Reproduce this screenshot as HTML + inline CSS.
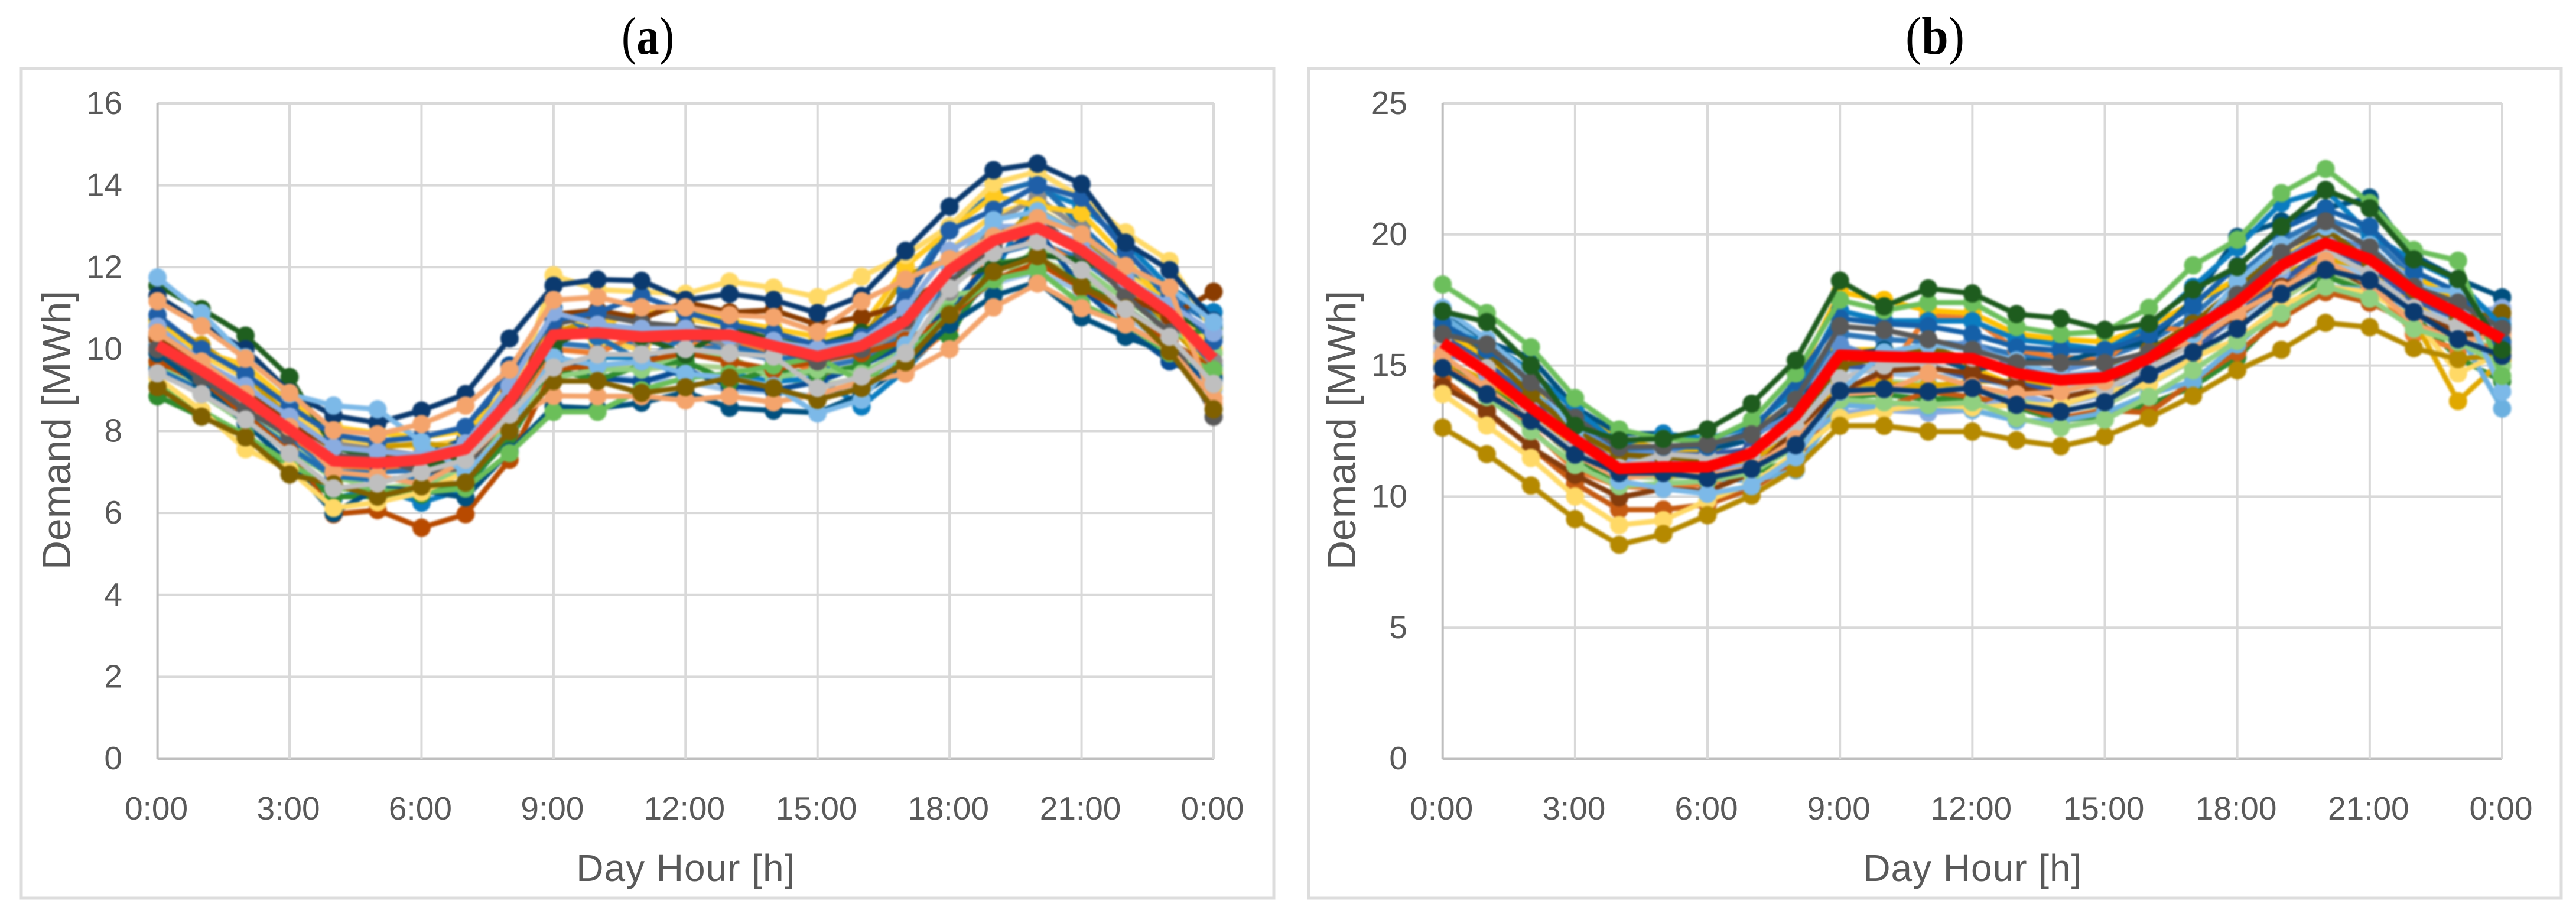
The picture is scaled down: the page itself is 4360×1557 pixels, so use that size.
<!DOCTYPE html>
<html lang="en">
<head>
<meta charset="utf-8">
<title>Daily demand profiles</title>
<style>
html,body{margin:0;padding:0;background:#fff;width:4360px;height:1557px;overflow:hidden}
svg{display:block}
text{font-family:"Liberation Sans",sans-serif;fill:#595959}
.tick{font-size:55px}
.title{font-family:"Liberation Serif",serif;fill:#000;font-size:90px}
.axt{font-size:64px}
.aty{font-size:68px}
.soft{filter:blur(1.5px)}
</style>
</head>
<body>
<svg id="root" xmlns="http://www.w3.org/2000/svg" width="4360" height="1557" viewBox="0 0 4360 1557">
  <rect width="4360" height="1557" fill="#fff"/>
  <text class="title" x="1052" y="91" textLength="89" lengthAdjust="spacingAndGlyphs">(<tspan font-weight="bold">a</tspan>)</text>
  <text class="title" x="3225" y="91" textLength="100" lengthAdjust="spacingAndGlyphs">(<tspan font-weight="bold">b</tspan>)</text>
  <rect x="36" y="116" width="2120" height="1404" fill="#fff" stroke="#DDDDDD" stroke-width="5"/>
  <rect x="2215" y="116" width="2120" height="1404" fill="#fff" stroke="#DDDDDD" stroke-width="5"/>
  <g id="panelA"></g>
  <g id="panelB"></g>
</svg>
<script>
// ---- shared axis data ----
const hours=[0,1,2,3,4,5,6,7,8,9,10,11,12,13,14,15,16,17,18,19,20,21,22,23,24];
const xTickHours=[0,3,6,9,12,15,18,21,24];
const xTickLabels=["0:00","3:00","6:00","9:00","12:00","15:00","18:00","21:00","0:00"];
const yTicksA=[0,2,4,6,8,10,12,14,16];
const yTicksB=[0,5,10,15,20,25];

// ---- panel (a) series, MWh per hour ----
const aExtra1=[9.9,9.3,8.6,7.8,7.0,7.0,7.05,7.3,8.2,10.15,10.05,10.15,10.2,9.95,9.75,9.55,9.75,10.4,11.6,12.3,12.6,12.2,11.4,10.6,9.6];
const aExtra2=[9.7,9.1,8.4,7.7,6.8,6.85,6.8,7.05,8.0,9.75,9.65,9.5,9.6,9.55,9.35,9.1,9.3,9.95,11.1,11.95,12.2,11.8,11.0,10.2,9.3];
const aExtra3=[10.25,9.65,9.15,8.3,7.4,7.3,7.2,7.45,8.6,9.45,9.35,9.25,9.2,9.0,8.95,8.85,9.2,9.9,10.9,11.6,11.9,11.4,10.8,10.1,9.0];
const aExtra4=[10.35,9.85,9.3,8.45,7.75,7.7,7.6,7.8,9.2,10.6,10.2,10.0,10.75,10.55,10.3,10.15,10.4,11.0,12.4,13.3,13.6,13.0,11.9,11.2,10.0];
const aSky=[10.1,9.5,8.4,7.6,6.35,6.6,6.25,6.6,7.9,9.6,9.8,9.8,9.3,9.4,9.2,9.3,8.6,9.5,10.6,11.8,13.9,13.5,12.6,11.5,10.9];
const aOrange=[10.0,9.4,8.7,7.9,7.15,7.1,7.2,7.4,8.4,10.0,9.9,10.4,10.1,10.2,9.9,9.4,9.5,9.6,10.5,12.7,12.7,12.0,11.2,10.5,9.9];
const aDeepBlue=[10.4,9.6,8.9,8.0,7.35,7.2,7.4,7.8,9.6,9.9,9.3,9.2,9.5,9.1,9.0,9.2,9.6,10.1,11.0,12.2,12.9,11.5,10.5,9.7,9.2];
const aAmber=[10.7,10.1,9.4,8.3,7.55,7.6,7.7,7.6,8.6,10.4,10.75,10.3,10.6,10.2,10.2,9.6,10.2,11.8,12.2,12.6,13.4,12.8,11.6,10.6,9.4];
const aForest=[8.85,8.35,7.9,7.1,6.4,6.4,6.45,6.7,7.8,9.5,9.25,9.6,9.7,9.2,9.5,9.4,9.6,10.3,10.3,12.1,12.2,11.6,11.0,10.3,10.5];
const aLtGreen=[9.6,8.9,8.2,7.5,6.9,6.6,6.7,7.0,8.2,9.3,9.5,9.5,9.9,9.8,9.3,9.5,9.4,10.0,11.3,11.5,12.5,12.0,11.2,10.5,9.9];
const aTeal=[9.5,9.0,8.3,7.6,6.9,6.8,6.9,7.2,8.6,11.0,10.3,9.7,10.3,10.1,9.8,9.7,9.9,11.4,13.0,13.8,14.1,13.0,12.0,11.3,10.6];
const aMidGray=[10.2,9.6,8.8,8.1,7.7,7.55,7.4,7.5,8.8,10.3,10.5,10.2,10.4,10.1,10.4,10.0,9.9,10.5,11.4,13.1,13.7,12.9,11.8,10.7,9.7];
const aGold=[10.6,9.95,9.6,8.7,8.1,7.95,7.85,8.0,9.0,10.8,10.6,10.9,11.0,10.7,10.5,10.3,10.5,12.03,12.9,13.74,13.5,13.33,12.2,11.0,9.1];
const aBrownRed=[9.7,9.2,8.4,7.5,5.97,6.07,5.64,5.97,7.3,9.5,9.6,9.7,9.9,9.7,9.5,9.7,9.9,10.2,10.8,11.7,12.1,11.5,10.9,10.2,9.5];
const aDarkBrown=[10.3,9.7,9.0,8.2,7.6,7.45,7.2,7.5,9.0,10.85,10.95,10.75,11.15,10.9,10.95,10.6,10.78,11.1,11.8,12.8,13.1,12.5,11.3,10.8,11.4];
const aDarkSteel=[9.9,9.1,8.2,7.2,6.0,6.6,6.55,6.38,7.5,8.6,8.55,8.69,8.95,8.57,8.5,8.45,8.9,9.6,10.6,11.3,11.64,10.78,10.3,9.9,9.3];
const aGreen=[9.1,8.5,7.9,7.2,6.6,6.55,6.5,6.6,7.46,8.47,8.47,9.0,9.3,9.4,9.6,9.8,9.2,9.8,10.9,11.7,11.93,11.1,10.6,9.9,9.5];
const aPaleYellow=[9.3,8.5,7.56,7.05,6.12,6.26,6.5,7.0,8.5,11.8,11.45,11.4,11.35,11.65,11.5,11.27,11.77,12.3,13.0,14.05,14.34,13.7,12.85,12.15,10.4];
const aDarkGreen=[11.55,10.98,10.33,9.32,7.6,7.35,7.1,7.4,8.6,10.1,10.6,10.3,9.87,10.55,10.2,10.1,10.4,10.98,11.75,12.0,12.3,12.18,11.7,11.0,10.3];
const aDarkGray=[10.0,9.3,8.5,7.9,7.4,7.35,7.0,7.1,8.4,10.6,10.84,10.64,10.55,10.4,10.0,9.7,10.0,10.7,11.7,12.5,13.2,12.4,11.3,10.4,8.35];
const aBlue=[10.83,10.0,9.39,8.6,7.9,7.75,7.85,8.1,9.4,10.7,10.9,11.3,10.9,10.6,10.4,10.1,10.3,11.2,12.9,13.4,14.0,13.7,12.4,11.3,10.2];
const aPeriwinkle=[10.55,9.7,9.1,8.35,7.6,7.5,7.4,7.7,9.1,10.9,10.6,10.5,10.5,10.3,10.2,10.0,10.2,11.0,12.4,13.0,13.0,12.6,11.7,11.1,10.4];
const aNavy=[11.3,10.6,10.0,8.95,8.38,8.2,8.5,8.9,10.26,11.55,11.7,11.67,11.2,11.35,11.2,10.88,11.3,12.4,13.48,14.37,14.53,14.03,12.6,11.93,10.69];
const aOrangeLow=[10.4,9.7,8.9,8.1,7.0,6.9,6.7,7.3,8.3,8.86,8.85,8.85,8.75,8.85,8.7,8.9,9.2,9.4,10.0,11.02,11.6,11.0,10.6,10.0,8.8];
const aLightBlue=[11.75,10.88,9.8,8.9,8.62,8.53,7.73,6.98,8.04,9.8,9.6,9.7,9.4,9.3,9.1,8.43,8.76,10.1,12.0,13.15,13.37,12.8,12.0,11.5,10.66];
const aPeach=[11.17,10.56,9.77,8.93,8.02,7.92,8.17,8.62,9.5,11.2,11.27,11.02,11.02,10.83,10.78,10.42,11.17,11.7,12.2,12.75,13.2,12.8,12.03,11.5,8.67];
const aOlive=[9.07,8.35,7.85,6.94,6.7,6.4,6.65,6.74,8.0,9.22,9.22,8.93,9.07,9.3,9.05,8.76,9.05,9.68,10.84,11.89,12.27,11.53,11.0,9.94,8.53];
const aLightGray=[9.41,8.9,8.28,7.45,6.6,6.72,7.0,7.3,8.4,9.55,9.87,9.87,10.0,9.9,9.82,9.05,9.33,9.9,11.48,12.35,12.63,11.93,10.98,10.3,9.15];
const aMean=[10.1,9.48,8.8,8.04,7.27,7.22,7.3,7.56,8.72,10.35,10.4,10.3,10.35,10.35,10.08,9.82,10.08,10.69,11.93,12.65,12.97,12.42,11.64,10.88,9.77];

// ---- panel (b) series, MWh per hour ----
const bExtra1=[16.3,15.3,14.2,12.8,11.7,11.7,11.7,12.2,13.6,16.2,16.0,15.9,15.8,15.4,15.3,15.3,15.9,16.9,18.4,19.8,20.6,20.0,18.3,17.6,16.6];
const bExtra2=[15.3,14.3,13.0,11.4,10.8,10.7,10.9,11.1,12.3,13.95,14.4,14.3,14.2,13.7,13.3,13.5,14.3,15.2,16.5,17.5,18.6,18.0,16.9,16.4,15.4];
const bExtra3=[15.8,14.9,13.6,12.4,11.5,11.3,11.3,11.7,13.2,15.6,15.6,15.5,14.9,14.2,14.2,14.3,15.0,16.0,17.7,18.4,19.0,18.6,17.3,16.6,16.2];
const bExtra4=[16.7,15.4,13.8,12.2,11.2,11.2,11.25,11.5,12.4,14.9,14.7,14.6,14.6,14.1,13.8,14.1,14.9,15.8,16.7,18.0,19.0,18.4,17.6,16.5,16.7];
const bForest=[15.0,14.2,13.1,11.5,10.5,10.3,10.5,10.9,11.4,13.8,13.9,13.7,13.8,13.4,12.9,13.1,13.5,14.2,15.3,17.0,18.4,17.8,16.9,15.3,14.4];
const bBrownOrange=[14.5,13.2,11.9,10.5,9.5,9.5,9.7,10.3,11.3,13.5,13.4,14.0,13.8,13.5,13.0,13.3,13.2,14.4,15.5,16.8,17.8,17.4,16.6,16.0,15.0];
const bOrange=[15.0,14.0,12.6,11.0,10.4,10.3,10.5,10.9,12.3,14.0,14.6,16.9,16.8,15.6,15.3,15.2,16.5,16.3,17.0,18.4,18.8,18.2,16.2,15.6,15.8];
const bAmber=[15.2,14.4,13.3,11.8,11.0,10.8,10.9,11.3,12.5,14.3,14.3,14.2,14.4,14.4,14.3,14.6,15.5,16.2,17.4,18.5,19.1,18.7,16.75,13.64,15.2];
const bGold=[16.4,15.2,14.0,13.2,12.2,11.8,11.7,12.4,14.4,17.8,17.5,17.1,17.0,16.2,16.0,15.9,16.5,17.4,18.3,19.1,20.0,19.2,18.4,17.5,16.0];
const bSteel=[16.9,15.9,15.3,13.4,12.4,12.4,11.8,12.2,13.5,15.4,15.6,15.4,14.8,15.2,15.1,15.6,15.9,17.5,19.9,20.5,21.0,21.4,19.2,18.3,17.6];
const bSlate=[15.5,14.9,14.0,12.7,11.6,11.7,12.1,12.3,13.2,15.8,15.2,15.7,15.9,14.9,14.8,15.2,15.2,16.0,17.5,19.0,20.0,19.4,17.7,17.2,16.8];
const bDeep=[16.1,15.1,13.7,12.3,11.3,11.6,11.6,11.8,13.0,15.0,14.9,15.0,14.5,14.3,14.0,14.4,14.6,15.5,17.0,18.2,19.4,18.8,17.5,16.8,15.7];
const bPeriwinkle=[15.7,14.7,13.6,12.0,11.4,11.4,11.0,11.2,12.1,13.2,13.3,13.2,13.3,13.9,13.5,13.9,15.0,16.3,17.4,18.6,19.7,19.3,18.3,17.0,17.2];
const bLightBlue2=[16.9,15.7,14.2,12.0,10.9,11.0,10.7,10.6,11.0,13.5,13.4,13.4,13.3,12.9,12.9,13.2,13.9,14.4,15.8,17.2,18.0,17.9,16.9,16.3,13.36];
const bOlive=[16.6,15.5,13.9,12.5,11.6,11.5,11.4,11.5,12.9,15.0,15.3,15.7,15.2,14.7,14.6,14.8,15.6,16.6,18.0,19.4,20.2,19.0,17.9,16.8,17.0];
const bDarkBrown=[14.2,13.27,11.88,10.83,9.97,10.3,10.2,10.9,12.6,14.0,14.8,14.9,14.7,14.2,13.76,14.14,15.0,16.0,16.9,18.0,18.9,18.0,17.2,16.2,16.2];
const bPaleYellow=[13.91,12.71,11.47,10.0,8.91,9.1,9.85,10.5,11.66,13.0,13.3,13.5,13.4,13.5,13.5,14.0,14.3,15.3,16.0,17.3,18.0,17.8,16.8,14.7,15.5];
const bGoldDark=[12.63,11.62,10.42,9.14,8.16,8.57,9.29,10.04,11.06,12.7,12.7,12.48,12.48,12.15,11.92,12.3,13.0,13.84,14.82,15.6,16.63,16.46,15.66,15.25,15.4];
const bLightGray=[16.0,14.9,13.0,11.73,11.1,11.62,11.5,11.58,12.63,14.5,15.0,15.1,15.3,14.8,14.3,14.1,14.9,15.8,17.2,18.8,19.4,18.5,17.2,16.5,16.2];
const bPeach=[15.4,14.14,12.86,11.58,10.68,10.9,10.8,11.1,12.2,13.9,14.0,14.7,14.2,13.9,14.0,14.4,15.5,15.9,17.0,17.9,19.0,18.1,16.6,15.9,16.2];
const bLtGreen=[14.9,13.8,12.5,11.2,10.4,10.5,10.6,10.9,11.9,13.7,13.6,13.5,13.6,13.0,12.63,12.93,13.8,14.82,15.94,16.98,18.0,17.55,16.4,15.9,15.0];
const bSky=[16.3,15.9,14.8,13.3,12.0,12.4,12.2,12.7,14.0,17.1,16.7,16.7,16.7,16.0,15.8,15.6,16.5,18.0,19.5,21.2,21.7,20.0,19.0,18.2,16.5];
const bMedBlue=[16.6,15.6,14.5,13.0,11.9,11.9,11.9,12.5,14.4,16.8,16.6,16.5,16.2,15.7,15.57,15.57,16.17,17.3,18.8,20.2,20.97,20.3,18.6,17.8,15.9];
const bLightBlue=[17.2,16.0,14.6,12.5,10.6,10.3,10.1,10.4,11.5,14.0,15.5,15.8,15.6,15.2,14.6,14.8,15.4,16.2,18.2,19.6,20.3,19.6,18.0,17.8,14.0];
const bGreen=[18.09,17.0,15.7,13.76,12.56,12.2,12.1,12.9,14.7,17.5,17.1,17.4,17.4,16.47,16.2,16.3,17.2,18.82,19.8,21.58,22.5,21.2,19.4,19.0,14.6];
const bDarkGray=[16.2,15.8,14.36,13.0,11.88,11.92,12.0,12.37,13.7,16.5,16.36,16.0,15.6,15.1,15.1,15.1,15.5,16.4,17.7,19.3,20.5,19.5,18.0,17.4,16.4];
const bNavy=[14.9,13.9,12.9,11.6,10.9,10.9,10.7,11.06,11.96,14.03,14.1,14.0,14.14,13.5,13.24,13.6,14.66,15.5,16.4,17.73,18.65,18.25,17.04,16.0,15.37];
const bDarkGreen=[17.07,16.66,15.0,12.7,12.15,12.2,12.56,13.54,15.2,18.24,17.26,17.94,17.75,16.96,16.8,16.36,16.6,17.9,18.76,20.3,21.7,21.0,19.05,18.3,15.6];
const bMean=[15.87,14.74,13.39,12.18,11.06,11.13,11.13,11.66,13.09,15.4,15.34,15.3,15.27,14.7,14.44,14.55,15.27,16.4,17.4,18.82,19.68,19.05,17.84,16.98,16.0];

// draw order and colours
const seriesA=[aExtra1,aExtra2,aExtra3,aExtra4,aSky,aOrange,aDeepBlue,aAmber,aForest,aLtGreen,aTeal,aMidGray,aGold,aBrownRed,aDarkBrown,aDarkSteel,aGreen,aPaleYellow,aDarkGreen,aDarkGray,aBlue,aPeriwinkle,aNavy,aOrangeLow,aLightBlue,aPeach,aOlive,aLightGray];
const coloursA=["#2E75B6","#A9D18E","#9DC3E6","#FFD24D","#0A7CC0","#ED7D31","#084C94","#CC9A00","#2E8B2E","#90D080","#1F6FB2","#8C8C8C","#FFC91F","#B84A00","#8A3C00","#00507F","#6BBF59","#FFD966","#1F5F1F","#595959","#1F5FA8","#8AACE0","#0B3A6F","#F4A46C","#7CB9E8","#F4A46C","#806000","#BFBFBF"];
const seriesB=[bExtra1,bExtra2,bExtra3,bExtra4,bForest,bBrownOrange,bOrange,bAmber,bGold,bSteel,bSlate,bDeep,bPeriwinkle,bLightBlue2,bOlive,bDarkBrown,bPaleYellow,bGoldDark,bLightGray,bPeach,bLtGreen,bSky,bMedBlue,bLightBlue,bGreen,bDarkGray,bNavy,bDarkGreen];
const coloursB=["#2E75B6","#A9D18E","#FFC000","#9DC3E6","#2E8B2E","#C55A11","#ED7D31","#E0A800","#FFC000","#00507F","#5A8FD0","#335AA1","#8AACE0","#6BB0E0","#806000","#843C0C","#FFD966","#B58900","#BFBFBF","#F4A46C","#90D080","#0A7CC0","#1560A8","#7CB9E8","#6CBF5C","#595959","#0B3A6F","#1E5C1E"];

const NS="http://www.w3.org/2000/svg";
function make(parent,tag,props,text){
  const el=document.createElementNS(NS,tag);
  for(const k in props) el.setAttribute(k,props[k]);
  if(text!==undefined) el.textContent=text;
  parent.appendChild(el);
  return el;
}
function drawPanel(cfg){
  const root=document.getElementById(cfg.id);
  const xScale=h=>cfg.x0+(cfg.x1-cfg.x0)*h/24;
  const yScale=v=>cfg.y0+(cfg.y1-cfg.y0)*v/cfg.yMax;

  // gridlines
  cfg.yTicks.forEach(v=>{
    const line=make(root,'line',{x1:cfg.x0,x2:cfg.x1,y1:yScale(v),y2:yScale(v),stroke:v===0?'#BFBFBF':'#D9D9D9','stroke-width':v===0?5:4});
    
    
  });
  xTickHours.forEach(h=>{
    const line=make(root,'line',{x1:xScale(h),x2:xScale(h),y1:cfg.y1,y2:cfg.y0,stroke:h===0?'#BFBFBF':'#D9D9D9','stroke-width':4});
    
    
  });

  // tick labels
  cfg.yTicks.forEach(v=>{
    const t=make(root,'text',{class:'tick',x:cfg.yLabelX,y:yScale(v)+18,'text-anchor':'end'},String(v));
    
    
  });
  xTickHours.forEach((h,i)=>{
    const t=make(root,'text',{class:'tick',x:xScale(h)-2,y:1387,'text-anchor':'middle'},xTickLabels[i]);
    
    
  });

  // axis titles
  const xt=make(root,'text',{class:'axt',x:(cfg.x0+cfg.x1)/2,y:1491,'text-anchor':'middle',textLength:370,lengthAdjust:'spacing'},'Day Hour [h]');
  
  
  const yt=make(root,'text',{class:'aty',x:0,y:0,'text-anchor':'middle',transform:'translate('+cfg.yTitleX+',728) rotate(-90)'},'Demand [MWh]');
  
  

  // series
  const marks=make(root,'g',{class:'soft'});
  
  
  cfg.series.forEach((vals,i)=>{
    const colour=cfg.colours[i];
    const g=make(marks,'g',{});
    
    
    const pts=vals.map((v,k)=>xScale(hours[k])+','+yScale(v)).join(' ');
    const pl=make(g,'polyline',{points:pts,fill:'none',stroke:colour,'stroke-width':9,'stroke-linejoin':'round'});
    
    
    vals.forEach((v,k)=>{
      const c=make(g,'circle',{cx:xScale(hours[k]),cy:yScale(v),r:15.5,fill:colour});
      
      
    });
  });
  const meanPts=cfg.mean.map((v,k)=>xScale(hours[k])+','+yScale(v)).join(' ');
  const mean=make(marks,'polyline',{points:meanPts,fill:'none',stroke:cfg.meanColour,'stroke-width':19,'stroke-linejoin':'round'});
  
  
}
drawPanel({id:'panelA',x0:266.6,x1:2054,y0:1284,y1:175,yMax:16,yTicks:yTicksA,yLabelX:207,yTitleX:119,series:seriesA,colours:coloursA,mean:aMean,meanColour:'#FF3333'});
drawPanel({id:'panelB',x0:2441.7,x1:4235,y0:1284,y1:175,yMax:25,yTicks:yTicksB,yLabelX:2382,yTitleX:2294,series:seriesB,colours:coloursB,mean:bMean,meanColour:'#FF0000'});
</script>
</body>
</html>
